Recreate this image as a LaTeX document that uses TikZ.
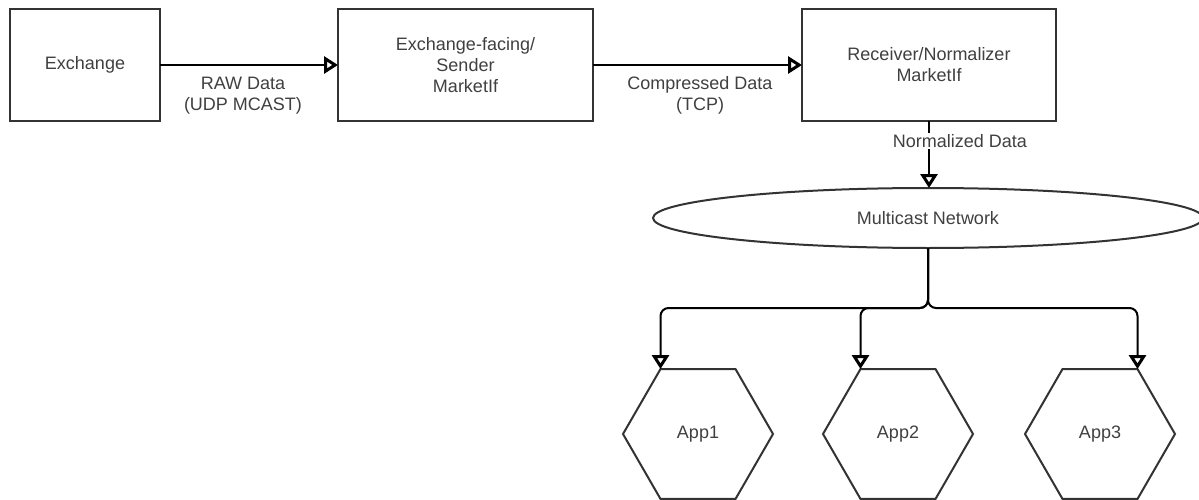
\documentclass[tikz,border=0pt]{standalone}
\usepackage{fontspec}
\setmainfont{Liberation Sans}
\usetikzlibrary{arrows.meta,shapes.geometric,calc}
\definecolor{ln}{HTML}{333333}
\definecolor{tx}{HTML}{404040}
\begin{document}
\begin{tikzpicture}[x=1pt,y=-1pt,
  txt/.style={text=tx, font=\fontsize{18}{21}\selectfont, align=center},
  box/.style={txt, draw=ln, line width=2pt, rectangle, minimum width=#1, minimum height=112pt, inner sep=0pt, outer sep=0pt},
  hexa/.style={txt, draw=ln, line width=2pt, regular polygon, regular polygon sides=6, minimum size=150pt, inner sep=0pt, outer sep=0pt},
  oval/.style={txt, draw=ln, line width=2pt, ellipse, minimum width=550pt, minimum height=60pt, inner sep=0pt, outer sep=0pt},
  conn/.style={draw=black, line width=2pt, -{Triangle[open, length=14pt, width=17pt, line width=3pt]}},
  lab/.style={txt, inner sep=1.5pt}
]
\useasboundingbox (0,0) rectangle (1199,500);
\fill[white] (0,0) rectangle (1199,500);

\node[box=150pt] (exch) at (85,65) {Exchange};
\node[box=255pt] (send) at (465.5,65) {Exchange-facing/\\Sender\\MarketIf};
\node[box=254pt] (recv) at (929,65) {Receiver/Normalizer\\MarketIf};
\node[oval] (net) at (928,218) {Multicast Network};
\node[hexa] (app1) at (698,434) {App1};
\node[hexa] (app2) at (898,434) {App2};
\node[hexa] (app3) at (1100,434) {App3};

\draw[conn] (exch) -- (send);
\node[lab] (l1) at (243,95.5) {RAW Data\\(UDP MCAST)};
\draw[conn] (send) -- (recv);
\node[lab] (l2) at (700,95.5) {Compressed Data\\(TCP)};
\draw[conn] (recv.south) -- (recv.south |- net.north);
\node[lab, fill=white] (l3) at (960,141) {Normalized Data};

\coordinate (br) at (928,308);
\draw[conn, rounded corners=8pt] (net.south) -- (br) -| (app1.120);
\draw[conn, rounded corners=8pt] (net.south) -- (br) -| (app2.120);
\draw[conn, rounded corners=8pt] (net.south) -- (br) -| (app3.60);
\end{tikzpicture}
\end{document}
